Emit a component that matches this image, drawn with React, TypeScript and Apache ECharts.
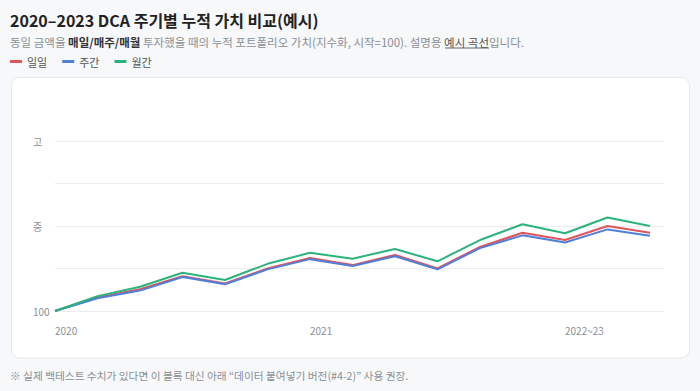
import React, { useEffect, useRef } from "react";
import * as echarts from "echarts";

const categories = ["2020", "", "", "", "", "", "2021", "", "", "", "", "", "2022~23", "", ""];
const dailyValues = [100, 103.2, 105.1, 108.2, 106.5, 110.0, 112.5, 110.8, 113.2, 110.0, 115.1, 118.4, 116.7, 120.0, 118.4];
const weeklyValues = [100, 103.0, 104.8, 108.0, 106.3, 109.8, 112.2, 110.6, 112.9, 109.8, 114.8, 117.8, 116.1, 119.2, 117.7];
const monthlyValues = [100, 103.5, 105.7, 109.0, 107.3, 111.1, 113.7, 112.3, 114.6, 111.7, 116.7, 120.4, 118.3, 122.0, 120.0];
const seriesNames = ["일일", "주간", "월간"];
const yTickLabels: Record<number, string> = { 100: "100", 120: "중", 140: "고" };

const titleText = "2020–2023 DCA 주기별 누적 가치 비교(예시)";
const subtitleText =
  "동일 금액을 {b|매일/매주/매월} 투자했을 때의 누적 포트폴리오 가치(지수화, 시작=100). 설명용 {u|예시 곡선}입니다.";
const footnoteText = "※ 실제 백테스트 수치가 있다면 이 블록 대신 아래 “데이터 붙여넣기 버전(#4-2)” 사용 권장.";

const FONT = "'Noto Sans CJK KR', 'Noto Sans', sans-serif";
const COLORS = ["#e0545a", "#4f7fd8", "#2bb37c"];
const SUB_SIZE = 11.5;

export default function App() {
  const ref = useRef<HTMLDivElement>(null);
  useEffect(() => {
    if (!ref.current) return;
    const chart = echarts.init(ref.current, undefined, { renderer: "svg" });
    const toPairs = (vals: number[]) => vals.map((v, i) => [i, v]);
    chart.setOption({
      animation: false,
      backgroundColor: "#f6f8fa",
      textStyle: { fontFamily: FONT },
      title: [
        {
          text: titleText,
          left: 10,
          top: 12,
          padding: 0,
          textStyle: { fontFamily: FONT, fontSize: 16, fontWeight: "bold", color: "#222" },
        },
        {
          text: subtitleText,
          left: 10,
          top: 36,
          padding: 0,
          textStyle: {
            fontFamily: FONT,
            fontSize: SUB_SIZE,
            fontWeight: "normal",
            color: "#8a8f96",
            rich: {
              b: { fontFamily: FONT, fontSize: SUB_SIZE, fontWeight: "bold", color: "#333" },
              u: { fontFamily: FONT, fontSize: SUB_SIZE, color: "#555" },
            },
          },
        },
        {
          text: footnoteText,
          left: 10,
          top: 370,
          padding: 0,
          textStyle: { fontFamily: FONT, fontSize: 10.7, fontWeight: "normal", color: "#8a8f96" },
        },
      ],
      legend: {
        data: seriesNames,
        left: 10,
        top: 56,
        padding: 0,
        icon: "rect",
        itemWidth: 12,
        itemHeight: 3,
        itemGap: 15,
        textStyle: { fontFamily: FONT, fontSize: 11, color: "#555" },
      },
      graphic: [
        {
          type: "rect",
          z: -10,
          silent: true,
          shape: { x: 11.5, y: 77.5, width: 678, height: 280.5, r: 8 },
          style: { fill: "#ffffff", stroke: "#e4e8ec", lineWidth: 1 },
        },
        {
          type: "line",
          silent: true,
          shape: { x1: 445, y1: 48, x2: 489, y2: 48 },
          style: { stroke: "#666", lineWidth: 1 },
        },
      ],
      grid: { left: 55, right: 36, top: 141, bottom: 80, containLabel: false },
      xAxis: {
        type: "value",
        min: 0,
        max: 14.33,
        interval: 6,
        axisLine: { show: false },
        axisTick: { show: false },
        axisLabel: {
          showMaxLabel: false,
          align: "left",
          margin: 14,
          fontFamily: FONT,
          fontSize: 10,
          color: "#8a8f96",
          formatter: (v: number) => (Number.isInteger(v) ? categories[v] ?? "" : ""),
        },
        splitLine: { show: false },
      },
      yAxis: {
        type: "value",
        min: 100,
        max: 140,
        interval: 10,
        axisLine: { show: false },
        axisTick: { show: false },
        axisLabel: {
          align: "left",
          margin: 22,
          fontFamily: FONT,
          fontSize: 10,
          color: "#8a8f96",
          formatter: (v: number) => yTickLabels[v] ?? "",
        },
        splitLine: { lineStyle: { color: "#ececec", width: 1 } },
      },
      series: [
        { name: seriesNames[0], type: "line", data: toPairs(dailyValues), color: COLORS[0] },
        { name: seriesNames[1], type: "line", data: toPairs(weeklyValues), color: COLORS[1] },
        { name: seriesNames[2], type: "line", data: toPairs(monthlyValues), color: COLORS[2] },
      ].map((s) => ({
        ...s,
        showSymbol: false,
        symbol: "none",
        lineStyle: { width: 2, color: s.color },
        itemStyle: { color: s.color },
      })),
    });
    return () => chart.dispose();
  }, []);
  return <div ref={ref} style={{ position: "absolute", left: 0, top: 0, width: 700, height: 391 }} />;
}
